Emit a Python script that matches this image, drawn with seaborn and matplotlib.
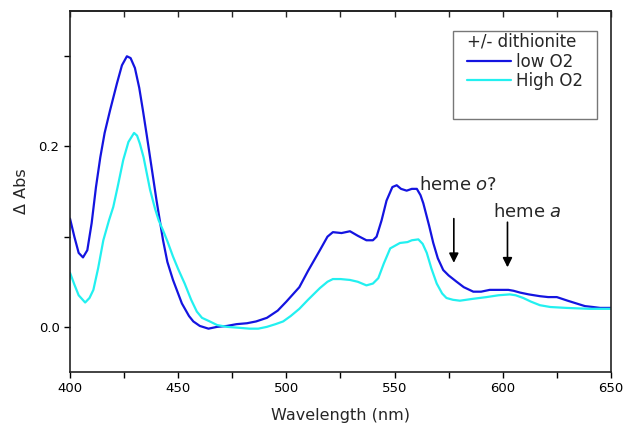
import pandas as pd
import numpy as np
import matplotlib
matplotlib.use("Agg")
import matplotlib.pyplot as plt
import seaborn as sns
from matplotlib.patches import Rectangle
from matplotlib.ticker import MultipleLocator

# ========== DATA ==========
low_wl = [400, 402, 404, 406, 408, 410, 412, 414, 416, 418.5, 421.7, 424, 426.3, 428, 430,
          432, 433.7, 435.5, 437, 440, 443, 445, 447.6, 451.7, 455, 457, 460, 464, 468,
          472.5, 477, 481.8, 486, 491, 496, 500, 506, 510, 515.5, 519, 521.5, 525.5,
          529.4, 533, 537, 540, 541.7, 544, 546.3, 549, 551, 553, 555.6, 558, 560.3,
          562, 563.3, 566, 567.9, 570, 572.5, 575, 578.7, 582, 586.4, 590, 594, 598,
          602.6, 605, 608, 612, 617.2, 621, 625, 630, 634, 638, 641.7, 645, 650]
low_abs = [0.120, 0.100, 0.082, 0.077, 0.085, 0.115, 0.155, 0.188, 0.215, 0.240, 0.270,
           0.290, 0.300, 0.298, 0.287, 0.265, 0.240, 0.212, 0.188, 0.140, 0.096, 0.072,
           0.052, 0.026, 0.012, 0.006, 0.001, -0.002, 0.000, 0.001, 0.003, 0.004, 0.006,
           0.010, 0.018, 0.028, 0.044, 0.062, 0.085, 0.100, 0.105, 0.104, 0.106, 0.101,
           0.096, 0.096, 0.100, 0.118, 0.140, 0.155, 0.157, 0.153, 0.151, 0.153, 0.153,
           0.146, 0.137, 0.112, 0.093, 0.076, 0.063, 0.057, 0.050, 0.044, 0.039, 0.039,
           0.041, 0.041, 0.041, 0.040, 0.038, 0.036, 0.034, 0.033, 0.033, 0.029, 0.026,
           0.023, 0.022, 0.021, 0.021]

high_wl = [400, 402, 404, 407, 409, 410.8, 413, 415.4, 418, 420, 422, 424.6, 427, 429.6,
           431, 432.3, 434, 435.5, 437, 439.3, 441, 443, 445, 447.6, 450, 453, 456,
           458.6, 461, 464.6, 468, 472.5, 478, 483, 487, 491, 495, 498.5, 502, 506, 510,
           515.5, 519, 521.5, 525, 529.4, 533, 537, 540, 542.5, 545, 548, 552.5, 556,
           558, 561, 563, 564.9, 567, 569.5, 572, 574, 577, 580.2, 586, 592.5, 598,
           603.3, 606, 609.5, 613, 617.2, 622, 629.5, 640, 650]
high_abs = [0.060, 0.047, 0.035, 0.027, 0.032, 0.041, 0.065, 0.096, 0.118, 0.133, 0.155,
            0.185, 0.205, 0.215, 0.212, 0.203, 0.188, 0.170, 0.152, 0.131, 0.118, 0.107,
            0.095, 0.078, 0.064, 0.048, 0.030, 0.017, 0.010, 0.006, 0.002, 0.000, -0.001,
            -0.002, -0.002, 0.000, 0.003, 0.006, 0.012, 0.020, 0.030, 0.043, 0.050,
            0.053, 0.053, 0.052, 0.050, 0.046, 0.048, 0.054, 0.070, 0.087, 0.093, 0.094,
            0.096, 0.097, 0.092, 0.082, 0.065, 0.048, 0.037, 0.032, 0.030, 0.029, 0.031,
            0.033, 0.035, 0.036, 0.035, 0.032, 0.028, 0.024, 0.022, 0.021, 0.020, 0.020]

series_names = ["low O2", "High O2"]
series_colors = ["#1414e0", "#22f0f0"]

# arrows: label, text position, arrow top, arrow tip
annot_labels = [r"heme $\mathit{o}$?", r"heme $\mathit{a}$"]
annot_text_xy = [(561.5, 0.157), (595.5, 0.127)]
arrow_x = [577.4, 602.2]
arrow_top = [0.120, 0.116]
arrow_tip = [0.071, 0.066]

df = pd.concat([
    pd.DataFrame({"wl": low_wl, "abs": low_abs, "sample": series_names[0]}),
    pd.DataFrame({"wl": high_wl, "abs": high_abs, "sample": series_names[1]}),
])

# ========== PLOT ==========
sns.set_style("ticks")
plt.rcParams['font.family'] = ['DejaVu Sans']
plt.rcParams['mathtext.fontset'] = 'dejavusans'

fig = plt.figure(figsize=(6.24, 4.30), dpi=100)
ax = fig.add_axes([0.1122, 0.135, 0.979 - 0.1122, 0.974 - 0.135])

sns.lineplot(data=df, x="wl", y="abs", hue="sample", palette=series_colors,
             sort=False, estimator=None, linewidth=1.6, ax=ax)

ax.set_xlim(400, 650)
ax.set_ylim(-0.05, 0.35)
ax.xaxis.set_major_locator(MultipleLocator(50))
ax.xaxis.set_minor_locator(MultipleLocator(25))
ax.yaxis.set_major_locator(MultipleLocator(0.2))
ax.yaxis.set_minor_locator(MultipleLocator(0.1))
ax.yaxis.set_major_formatter(matplotlib.ticker.FormatStrFormatter("%.1f"))
ax.tick_params(axis="both", which="both", direction="out", length=4, width=1,
               labelsize=9.5, colors="black")
ax.tick_params(right=False)

top = ax.secondary_xaxis("top")
top.xaxis.set_major_locator(MultipleLocator(25))
top.tick_params(direction="in", length=4, width=1, labeltop=False)

for sp in ax.spines.values():
    sp.set_visible(True)
    sp.set_linewidth(1.2)
    sp.set_color("#222222")
top.spines["top"].set_linewidth(1.2)

ax.set_xlabel("Wavelength (nm)", fontsize=11.5, labelpad=9)
ax.set_ylabel("Δ Abs", fontsize=11.5, labelpad=7)

# annotations
for lab, (tx, ty), ax_x, y0, y1 in zip(annot_labels, annot_text_xy, arrow_x, arrow_top, arrow_tip):
    ax.text(tx, ty, lab, fontsize=13, va="center", ha="left")
    ax.annotate("", xy=(ax_x, y1), xytext=(ax_x, y0),
                arrowprops=dict(arrowstyle="-|>", color="black", lw=1.2,
                                mutation_scale=14, shrinkA=0, shrinkB=0))

# legend
handles, labels = ax.get_legend_handles_labels()
leg = ax.legend(handles, labels, title="+/- dithionite", loc="upper left",
                bbox_to_anchor=(0.722, 0.958), frameon=False, fontsize=12,
                title_fontsize=12, handlelength=2.6, handletextpad=0.35,
                labelspacing=0.1, alignment="left", borderaxespad=0)
ax.add_patch(Rectangle((0.708, 0.701), 0.974 - 0.708, 0.945 - 0.701,
                       transform=ax.transAxes, fill=False, edgecolor="#777777",
                       linewidth=1, zorder=5))

fig.savefig("out.png", dpi=100)
plt.close()
